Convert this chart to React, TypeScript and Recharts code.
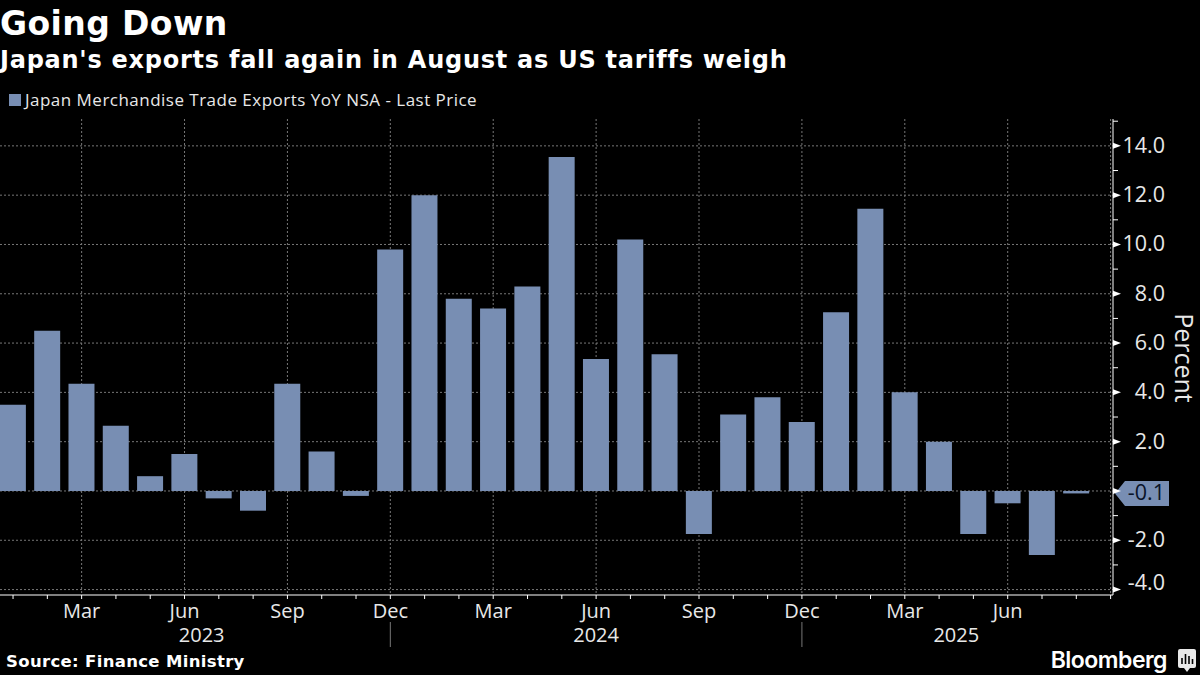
import { BarChart, Bar, XAxis, YAxis, CartesianGrid, ReferenceDot, Label } from 'recharts';

const exportsYoY = [
  3.5, 6.5, 4.35, 2.65, 0.6, 1.5, -0.3, -0.8, 4.35, 1.6, -0.2, 9.8,
  12.0, 7.8, 7.4, 8.3, 13.55, 5.35, 10.2, 5.55, -1.75, 3.1, 3.8, 2.8,
  7.25, 11.45, 4.0, 2.0, -1.75, -0.5, -2.6, -0.1,
];
const monthLabels: Record<number, string> = {
  2: 'Mar', 5: 'Jun', 8: 'Sep', 11: 'Dec',
  14: 'Mar', 17: 'Jun', 20: 'Sep', 23: 'Dec',
  26: 'Mar', 29: 'Jun',
};
const monthTicks = Array.from({ length: 33 }, (_, i) => i);
const gridMonths = [2, 5, 8, 11, 14, 17, 20, 23, 26, 29, 32];
const yearLabels: Record<number, string> = { 5.5: '2023', 17: '2024', 27.5: '2025' };
const yearSeparators = [11, 23];
const valueTicks = [15, 14, 13, 12, 11, 10, 9, 8, 7, 6, 5, 4, 3, 2, 1, 0, -1, -2, -3, -4];
const gridValues = [14, 12, 10, 8, 6, 4, 2, 0, -2, -4];
const lastValue = -0.1;

const data = exportsYoY.map((value, idx) => ({ idx, value }));

const BAR = '#788eb3';
const TEXT = '#e8e8e8';
const FONT = '"Open Sans", "Noto Sans", sans-serif';
const HEAD = '"DejaVu Sans", sans-serif';
const X_DOMAIN = [-0.38, 32.07];

function MonthTick({ x, y, payload }: any) {
  const label = monthLabels[payload.value];
  return (
    <g>
      <line x1={x} x2={x} y1={y - 8} y2={y - 4} stroke="#fff" />
      {label && (
        <text x={x} y={y + 15} textAnchor="middle" fill={TEXT} fontSize={20} fontFamily={FONT}>
          {label}
        </text>
      )}
    </g>
  );
}

function YearTick({ x, y, payload }: any) {
  if (yearSeparators.includes(payload.value)) {
    return <line x1={x} x2={x} y1={y - 11} y2={y + 14} stroke="#777" />;
  }
  return (
    <text x={x} y={y + 9} textAnchor="middle" fill={TEXT} fontSize={20} fontFamily={FONT}>
      {yearLabels[payload.value]}
    </text>
  );
}

function ValueTick({ x, y, payload }: any) {
  const v = payload.value;
  const ax = x - 8;
  if (v % 2 !== 0) {
    return <line x1={ax} x2={ax + 5} y1={y} y2={y} stroke="#fff" />;
  }
  return (
    <g>
      <path d={`M${ax} ${y - 3}L${ax + 8} ${y}L${ax} ${y + 3}Z`} fill="#fff" />
      {v !== 0 && (
        <text
          x={ax + 52}
          y={v === -4 ? y : y + 7}
          textAnchor="end"
          fill={TEXT}
          fontSize={21.5}
          fontFamily={FONT}
        >
          {v.toFixed(1)}
        </text>
      )}
    </g>
  );
}

function LastPriceTag({ cx, cy }: any) {
  const x = cx + 2;
  return (
    <g>
      <path d={`M${x} ${cy}L${x + 10} ${cy - 12.5}H${x + 54}V${cy + 12.5}H${x + 10}Z`} fill={BAR} />
      <text x={x + 50} y={cy + 7} textAnchor="end" fill="#0a1428" fontSize={21.5} fontFamily={FONT}>
        {lastValue.toFixed(1)}
      </text>
    </g>
  );
}

function PercentLabel({ viewBox }: any) {
  const x = viewBox.x + 62;
  const y = 358;
  return (
    <text
      x={x}
      y={y}
      transform={`rotate(90 ${x} ${y})`}
      textAnchor="middle"
      fill={TEXT}
      fontSize={25}
      fontFamily={FONT}
    >
      Percent
    </text>
  );
}

export default function App() {
  return (
    <div style={{ position: 'absolute', left: 0, top: 0, width: 1200, height: 675, background: '#000', overflow: 'hidden' }}>
      <div style={{ position: 'absolute', left: 0, top: 4, color: '#fff', fontFamily: HEAD, fontWeight: 700, fontSize: 33, letterSpacing: 0.4, lineHeight: '40px' }}>
        Going Down
      </div>
      <div style={{ position: 'absolute', left: 0, top: 45, color: '#fff', fontFamily: HEAD, fontWeight: 700, fontSize: 24, letterSpacing: 0.75, lineHeight: '30px' }}>
        Japan's exports fall again in August as US tariffs weigh
      </div>
      <div style={{ position: 'absolute', left: 9, top: 94, width: 12, height: 12, background: BAR }} />
      <div style={{ position: 'absolute', left: 25, top: 89, color: TEXT, fontFamily: FONT, fontSize: 17, letterSpacing: 0.48, lineHeight: '22px' }}>
        Japan Merchandise Trade Exports YoY NSA - Last Price
      </div>

      <BarChart
        width={1200}
        height={675}
        data={data}
        margin={{ top: 119, right: 0, bottom: 0, left: 0 }}
        style={{ position: 'absolute', left: 0, top: 0 }}
      >
        <CartesianGrid
          stroke="#777"
          strokeDasharray="2 2"
          horizontalValues={gridValues}
          verticalValues={gridMonths}
        />
        <XAxis
          type="number"
          dataKey="idx"
          domain={X_DOMAIN}
          ticks={monthTicks}
          interval={0}
          height={30}
          stroke="#fff"
          tickLine={false}
          tick={<MonthTick />}
        />
        <XAxis
          xAxisId="year"
          type="number"
          dataKey="idx"
          domain={X_DOMAIN}
          ticks={[5.5, 11, 17, 23, 27.5]}
          interval={0}
          height={50}
          axisLine={false}
          tickLine={false}
          tick={<YearTick />}
        />
        <YAxis
          orientation="right"
          type="number"
          domain={[-4.22, 15.09]}
          ticks={valueTicks}
          interval={0}
          width={87}
          stroke="#fff"
          tickLine={false}
          tick={<ValueTick />}
        >
          <Label content={<PercentLabel />} />
        </YAxis>
        <Bar dataKey="value" fill={BAR} barSize={26} isAnimationActive={false} />
        <ReferenceDot x={32.07} y={lastValue} ifOverflow="visible" shape={<LastPriceTag />} />
      </BarChart>

      <div style={{ position: 'absolute', left: 6, top: 651, color: '#fff', fontFamily: HEAD, fontWeight: 700, fontSize: 16.5, letterSpacing: 0.33, lineHeight: '22px' }}>
        Source: Finance Ministry
      </div>
      <div style={{ position: 'absolute', right: 33, top: 645, color: '#fff', fontFamily: 'Inter, sans-serif', fontWeight: 600, fontSize: 23, lineHeight: '30px', letterSpacing: -0.5 }}>
        Bloomberg
      </div>
      <svg width={18} height={24} style={{ position: 'absolute', left: 1178, top: 649 }}>
        <path d="M2 0H16Q18 0 18 2V17Q18 19 16 19H12L9 23L6 19H2Q0 19 0 17V2Q0 0 2 0Z" fill="#e8e8e8" />
        <path d="M4 15V9M7.5 15V5M11 15V7M14.5 15V10" stroke="#000" strokeWidth={1.6} />
      </svg>
    </div>
  );
}
